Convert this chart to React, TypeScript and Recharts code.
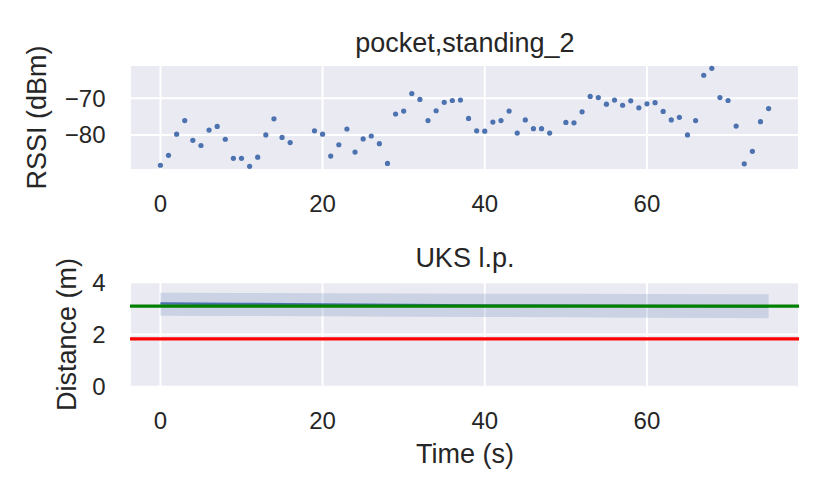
import React from 'react';
import {
  ComposedChart,
  Scatter,
  Line,
  Area,
  XAxis,
  YAxis,
  CartesianGrid,
  ReferenceLine,
} from 'recharts';

// ---- Top panel: RSSI samples (null = no sample) ----
const rssiTimes = [
  0, 1, 2, 3, 4, 5, 6, 7, 8, 9, 10, 11, 12, 13, 14, 15, 16, 17, 18, 19,
  20, 21, 22, 23, 24, 25, 26, 27, 28, 29, 30, 31, 32, 33, 34, 35, 36, 37, 38, 39,
  40, 41, 42, 43, 44, 45, 46, 47, 48, 49, 50, 51, 52, 53, 54, 55, 56, 57, 58, 59,
  60, 61, 62, 63, 64, 65, 66, 67, 68, 69, 70, 71, 72, 73, 74, 75,
];
const rssiValues: (number | null)[] = [
  -88.3, -85.6, -79.8, -76.1, -81.5, -82.9, -78.7, -77.7, -81.2, -86.4,
  -86.4, -88.6, -86.1, -80.0, -75.6, -80.7, -82.1, null, null, -78.9,
  -79.8, -85.8, -82.7, -78.4, -84.7, -81.1, -80.3, -82.4, -87.8, -74.3,
  -73.5, -68.7, -70.3, -76.1, -73.4, -71.1, -70.6, -70.5, -75.5, -78.9,
  -79.0, -76.5, -76.1, -73.5, -79.5, -75.9, -78.3, -78.3, -79.5, null,
  -76.6, -76.7, -73.7, -69.5, -69.8, -71.6, -70.5, -71.9, -70.7, -72.6,
  -71.5, -71.2, -73.6, -75.9, -75.2, -80.0, -76.1, -63.7, -61.8, -69.8,
  -70.6, -77.6, -87.9, -84.5, -76.4, -72.8,
];
const rssiTicks = [-80, -70];

// ---- Bottom panel: UKS l.p. distance estimate ----
const distTimes = [0, 10, 20, 30, 40, 50, 60, 70, 75];
const distMean = [3.19, 3.17, 3.15, 3.13, 3.11, 3.1, 3.09, 3.08, 3.07];
const distLower = [2.72, 2.71, 2.7, 2.68, 2.67, 2.66, 2.64, 2.63, 2.62];
const distUpper = [3.6, 3.59, 3.58, 3.57, 3.56, 3.56, 3.55, 3.54, 3.54];
const trueDistance = 3.09;
const baselineDistance = 1.83;
const distTicks = [0, 2, 4];

const timeTicks = [0, 20, 40, 60];
const timeDomain: [number, number] = [-3.75, 78.75];

const titles = { top: 'pocket,standing_2', bottom: 'UKS l.p.' };
const labels = { rssi: 'RSSI (dBm)', dist: 'Distance (m)', time: 'Time (s)' };

const rssiData = rssiTimes
  .map((t, i) => ({ t, v: rssiValues[i] }))
  .filter((d) => d.v !== null);

const distData = distTimes.map((t, i) => ({
  t,
  m: distMean[i],
  band: [distLower[i], distUpper[i]],
}));

const FONT = '"Liberation Sans", Arial, Helvetica, sans-serif';
const TEXT = '#262626';
const BLUE = '#4C72B0';
const tickStyle = { fontFamily: FONT, fontSize: 24, fill: TEXT };
const fmt = (v: number) => (v < 0 ? `\u2212${-v}` : `${v}`);

const Dot = (p: any) => <circle cx={p.cx} cy={p.cy} r={2.6} fill={BLUE} />;

export default function App() {
  return (
    <div
      style={{
        position: 'absolute',
        left: 0,
        top: 0,
        width: 830,
        height: 498,
        background: '#fff',
        fontFamily: FONT,
      }}
    >
      <div style={{ position: 'absolute', left: 0, top: 0 }}>
        <ComposedChart
          width={830}
          height={230}
          data={rssiData}
          margin={{ top: 65, right: 31, bottom: 0, left: 0 }}
        >
          <CartesianGrid fill="#EAEAF2" stroke="#FFFFFF" strokeWidth={2} />
          <XAxis
            type="number"
            dataKey="t"
            domain={timeDomain}
            ticks={timeTicks}
            allowDataOverflow
            axisLine={false}
            tickLine={false}
            tickSize={0}
            tickMargin={25}
            height={60}
            tick={tickStyle}
          />
          <YAxis
            type="number"
            domain={[-89.6, -60.9]}
            ticks={rssiTicks}
            allowDataOverflow
            axisLine={false}
            tickLine={false}
            tickSize={0}
            tickMargin={24.5}
            width={130}
            tick={tickStyle}
            tickFormatter={fmt}
          />
          <Scatter dataKey="v" shape={Dot} isAnimationActive={false} />
        </ComposedChart>
      </div>
      <div style={{ position: 'absolute', left: 0, top: 230 }}>
        <ComposedChart
          width={830}
          height={268}
          data={distData}
          margin={{ top: 52.3, right: 31, bottom: 0, left: 0 }}
        >
          <CartesianGrid fill="#EAEAF2" stroke="#FFFFFF" strokeWidth={2} />
          <XAxis
            type="number"
            dataKey="t"
            domain={timeDomain}
            ticks={timeTicks}
            allowDataOverflow
            axisLine={false}
            tickLine={false}
            tickSize={0}
            tickMargin={25}
            height={111.3}
            tick={tickStyle}
          />
          <YAxis
            type="number"
            domain={[0, 4]}
            ticks={distTicks}
            allowDataOverflow
            axisLine={false}
            tickLine={false}
            tickSize={0}
            tickMargin={24.5}
            width={130}
            tick={tickStyle}
          />
          <Area
            type="linear"
            dataKey="band"
            stroke="none"
            fill={BLUE}
            fillOpacity={0.2}
            isAnimationActive={false}
          />
          <Line
            type="linear"
            dataKey="m"
            stroke={BLUE}
            strokeWidth={2.5}
            dot={false}
            isAnimationActive={false}
          />
          <ReferenceLine y={trueDistance} stroke="#008000" strokeWidth={3.2} />
          <ReferenceLine y={baselineDistance} stroke="#FF0000" strokeWidth={3.2} />
        </ComposedChart>
      </div>
      <svg
        width={830}
        height={498}
        style={{ position: 'absolute', left: 0, top: 0, pointerEvents: 'none' }}
      >
        <g fontFamily={FONT} fill={TEXT} fontSize={27}>
          <text x={464.9} y={51.5} textAnchor="middle">
            {titles.top}
          </text>
          <text x={464.9} y={267} textAnchor="middle">
            {titles.bottom}
          </text>
          <text x={464.9} y={463} textAnchor="middle">
            {labels.time}
          </text>
          <text x={46} y={117.5} textAnchor="middle" transform="rotate(-90 46 117.5)">
            {labels.rssi}
          </text>
          <text x={76} y={334.5} textAnchor="middle" transform="rotate(-90 76 334.5)">
            {labels.dist}
          </text>
        </g>
      </svg>
    </div>
  );
}
